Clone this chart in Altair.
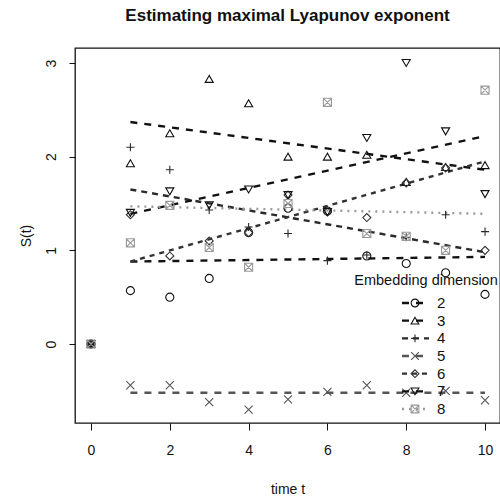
import altair as alt
import pandas as pd

# ---- data ----
times = [0, 1, 2, 3, 4, 5, 6, 7, 8, 9, 10]
series_names = ["2", "3", "4", "5", "6", "7", "8"]
s2 = [0, 0.57, 0.50, 0.70, 1.19, 1.45, 1.42, 0.94, 0.86, 0.76, 0.53]
s3 = [0, 1.93, 2.25, 2.83, 2.57, 2.00, 2.00, 2.02, 1.73, 1.89, 1.91]
s4 = [0, 2.10, 1.86, 1.43, 1.25, 1.18, 0.89, 0.95, 1.14, 1.38, 1.20]
s5 = [0, -0.44, -0.44, -0.62, -0.70, -0.59, -0.51, -0.44, -0.52, -0.50, -0.60]
s6 = [0, 1.38, 0.94, 1.10, 1.19, 1.59, 1.41, 1.35, 1.72, 1.88, 1.00]
s7 = [0, 1.40, 1.63, 1.48, 1.65, 1.59, 1.41, 2.20, 3.00, 2.27, 1.60]
s8 = [0, 1.08, 1.48, 1.03, 0.82, 1.50, 2.58, 1.18, 1.15, 1.00, 2.71]
all_series = [s2, s3, s4, s5, s6, s7, s8]

# fitted lines: value at t=1 and at t=10
fit_t = [1, 10]
fit_start = [0.88, 2.37, 1.65, -0.52, 0.88, 1.39, 1.47]
fit_end = [0.93, 1.86, 0.98, -0.52, 1.95, 2.22, 1.39]

legend_title = "Embedding dimension"

# ---- tables ----
pts = pd.DataFrame(
    [{"series": n, "t": t, "S": v} for n, vals in zip(series_names, all_series) for t, v in zip(times, vals)]
)
fits = pd.DataFrame(
    [{"series": n, "t": t, "S": v}
     for n, a, b in zip(series_names, fit_start, fit_end)
     for t, v in zip(fit_t, [a, b])]
)
leg = pd.DataFrame({"series": series_names, "rank": list(range(len(series_names)))})

# ---- styles ----
FONT = "Liberation Sans"
colors = ["#111111", "#111111", "#2a2a2a", "#555555", "#333333", "#111111", "#9a9a9a"]
dashes = [[7, 7], [7, 7], [6, 5], [7, 7], [5, 5], [7, 7], [2, 5]]
widths = [2.4, 2.4, 2.0, 2.4, 2.0, 2.4, 1.6]
shapes = [
    "circle",
    "triangle-up",
    "M-1,0L1,0M0,-1L0,1",
    "M-1,-1L1,1M-1,1L1,-1",
    "diamond",
    "triangle-down",
    "M-1,-1L1,-1L1,1L-1,1ZM-1,-1L1,1M-1,1L1,-1",
]

color_enc = alt.Color("series:N", scale=alt.Scale(domain=series_names, range=colors), legend=None)
dash_enc = alt.StrokeDash("series:N", scale=alt.Scale(domain=series_names, range=dashes), legend=None)
width_enc = alt.StrokeWidth("series:N", scale=alt.Scale(domain=series_names, range=widths), legend=None)
shape_enc = alt.Shape("series:N", scale=alt.Scale(domain=series_names, range=shapes), legend=None)

xscale = alt.Scale(domain=[-0.406, 10.38], nice=False, zero=False)
yscale = alt.Scale(domain=[-0.843, 3.16], nice=False, zero=False)

x_axis = alt.Axis(values=[0, 2, 4, 6, 8, 10], title="time t", domain=False, grid=False,
                  tickSize=7, labelPadding=13, titlePadding=25, format="d")
y_axis = alt.Axis(values=[0, 1, 2, 3], title="S(t)", domain=False, grid=False,
                  tickSize=6, labelPadding=11, labelAngle=270, labelAlign="center",
                  labelBaseline="bottom", titlePadding=11, format="d")

lines = alt.Chart(fits).mark_line().encode(
    x=alt.X("t:Q", scale=xscale, axis=x_axis),
    y=alt.Y("S:Q", scale=yscale, axis=y_axis),
    color=color_enc, strokeDash=dash_enc, strokeWidth=width_enc, detail="series:N",
)

points = alt.Chart(pts).mark_point(filled=False, size=65, strokeWidth=1.1, opacity=1).encode(
    x=alt.X("t:Q", scale=xscale, axis=x_axis),
    y=alt.Y("S:Q", scale=yscale, axis=None),
    color=color_enc, shape=shape_enc,
)

leg_y = alt.Y("rank:Q", scale=alt.Scale(domain=[0, 6], range=[255, 361]), axis=None)

leg_rules = alt.Chart(leg).mark_rule().encode(
    x=alt.value(327), x2=alt.value(354), y=leg_y,
    color=color_enc, strokeDash=dash_enc, strokeWidth=width_enc,
)
leg_points = alt.Chart(leg).mark_point(filled=False, size=60, strokeWidth=1.1, opacity=1).encode(
    x=alt.value(340), y=leg_y, color=color_enc, shape=shape_enc,
)
leg_labels = alt.Chart(leg).mark_text(align="left", baseline="middle", font=FONT, fontSize=15,
                                      color="#111111").encode(
    x=alt.value(362), y=leg_y, text="series:N",
)
leg_title = alt.Chart(pd.DataFrame({"label": [legend_title]})).mark_text(
    align="center", baseline="alphabetic", font=FONT, fontSize=14.5, color="#111111"
).encode(x=alt.value(351), y=alt.value(237), text="label:N")

chart = alt.layer(lines, points, leg_rules, leg_points, leg_labels, leg_title).resolve_scale(
    y="independent"
).properties(
    width=425,
    height=375,
    padding={"left": 75, "top": 48, "right": 0, "bottom": 75},
    autosize=alt.AutoSizeParams(type="none"),
    title=alt.TitleParams("Estimating maximal Lyapunov exponent", font=FONT, fontSize=17,
                          fontWeight="bold", anchor="middle", offset=23, color="#111111"),
).configure_view(
    stroke="#111111", strokeWidth=1.3
).configure_axis(
    labelFont=FONT, titleFont=FONT, labelFontSize=14, titleFontSize=14,
    labelColor="#111111", titleColor="#111111", tickColor="#111111", titleFontWeight="normal",
)

chart.save("out.html", embed_options={"renderer": "svg", "actions": False})
